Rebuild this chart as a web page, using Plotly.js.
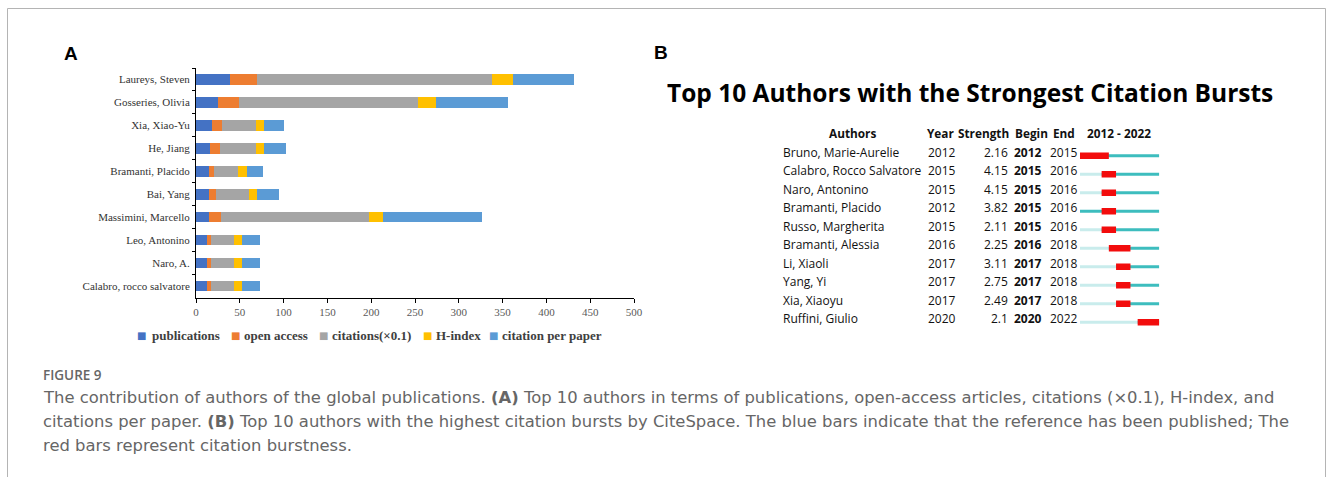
<!DOCTYPE html>
<html>
<head>
<meta charset="utf-8">
<script src="https://cdn.plot.ly/plotly-3.0.1.min.js"></script>
<style>
  html, body { margin: 0; padding: 0; background: #fff; }
  #chart { width: 1330px; height: 477px; }
</style>
</head>
<body>
<div id="chart"></div>
<script>
// ---- Panel A: author contribution (stacked horizontal bars) ----
const authorsA = [
  'Laureys, Steven', 'Gosseries, Olivia', 'Xia, Xiao-Yu', 'He, Jiang',
  'Bramanti, Placido', 'Bai, Yang', 'Massimini, Marcello', 'Leo, Antonino',
  'Naro, A.', 'Calabro, rocco salvatore'
];
const publications     = [39, 25, 18, 16, 15, 15, 15, 13, 13, 13];
const openAccess       = [31, 24, 12, 11, 5, 8, 13, 4, 4, 4];
const citationsTenth   = [268, 204.5, 38.5, 41.5, 28.5, 37, 170, 26.5, 26.5, 26.5];
const hIndex           = [24, 20.5, 9.5, 9.5, 9.5, 9.5, 15, 8.5, 8.5, 8.5];
const citationPerPaper = [70, 82, 22, 25, 19, 25, 114, 20.5, 20.5, 20.5];
const seriesNames  = ['publications', 'open access', 'citations(\u00d70.1)', 'H-index', 'citation per paper'];
const seriesColors = ['#4472C4', '#ED7D31', '#A5A5A5', '#FFC000', '#5B9BD5'];
const xTicksA = [0, 50, 100, 150, 200, 250, 300, 350, 400, 450, 500];

// ---- Panel B: citation bursts ----
const burstAuthors = [
  'Bruno, Marie-Aurelie', 'Calabro, Rocco Salvatore', 'Naro, Antonino',
  'Bramanti, Placido', 'Russo, Margherita', 'Bramanti, Alessia',
  'Li, Xiaoli', 'Yang, Yi', 'Xia, Xiaoyu', 'Ruffini, Giulio'
];
const burstYear     = [2012, 2015, 2015, 2012, 2015, 2016, 2017, 2017, 2017, 2020];
const burstStrength = ['2.16', '4.15', '4.15', '3.82', '2.11', '2.25', '3.11', '2.75', '2.49', '2.1'];
const burstBegin    = [2012, 2015, 2015, 2015, 2015, 2016, 2017, 2017, 2017, 2020];
const burstEnd      = [2015, 2016, 2016, 2016, 2016, 2018, 2018, 2018, 2018, 2022];
const spanStart = 2012, spanEnd = 2022;

const W = 1330, H = 477;
const px = v => v / W;
const py = v => 1 - v / H;

const traces = [];
const seriesValues = [publications, openAccess, citationsTenth, hIndex, citationPerPaper];
seriesValues.forEach((vals, k) => {
  traces.push({
    type: 'bar', orientation: 'h', x: vals, y: authorsA,
    name: seriesNames[k], marker: { color: seriesColors[k] },
    xaxis: 'x', yaxis: 'y', showlegend: false, hoverinfo: 'skip'
  });
});

// timeline segments: before publication year, after it, and the burst itself
function segments(startArr, endArr) {
  const xs = [], ys = [];
  burstAuthors.forEach((_, i) => {
    const a = startArr(i), b = endArr(i);
    if (b > a) { xs.push(a, b, null); ys.push(i, i, null); }
  });
  return { xs, ys };
}
const before = segments(i => spanStart, i => burstYear[i]);
const after  = segments(i => burstYear[i], i => spanEnd + 1);
const burst  = segments(i => burstBegin[i], i => burstEnd[i] + 1);
[[before, '#C9ECEC', 3], [after, '#3DBDBE', 3], [burst, '#F20D0D', 6.5]].forEach(([s, c, w]) => {
  traces.push({
    type: 'scatter', mode: 'lines', x: s.xs, y: s.ys, xaxis: 'x2', yaxis: 'y2',
    line: { color: c, width: w }, showlegend: false, hoverinfo: 'skip'
  });
});

const sansB = '"Open Sans", Lato, sans-serif';
const tableFont = { family: sansB, size: 12, color: '#111' };
const annotations = [];
function note(text, x, y, opts) {
  annotations.push(Object.assign({
    text, x, y, xref: 'paper', yref: 'paper', showarrow: false,
    xanchor: 'left', yanchor: 'middle', align: 'left', font: tableFont
  }, opts || {}));
}

// panel letters
note('<b>A</b>', px(71), py(53), { xanchor: 'center', font: { family: 'Liberation Sans, Arial, sans-serif', size: 19, color: '#000' } });
note('<b>B</b>', px(661), py(52), { xanchor: 'center', font: { family: 'Liberation Sans, Arial, sans-serif', size: 19, color: '#000' } });

// legend for panel A: colour square + series name
const serif = 'Liberation Serif, "Times New Roman", serif';
const legendSquareX = [141.5, 235.5, 323.5, 427.5, 493.5];
const legendTextX   = [150, 242, 330, 434, 500];
seriesNames.forEach((name, k) => {
  note('\u25A0', px(legendSquareX[k]), py(335), { xanchor: 'center',
    font: { family: 'DejaVu Sans, sans-serif', size: 10, color: seriesColors[k] } });
  note('<b>' + name + '</b>', px(legendTextX[k]), py(335),
    { font: { family: serif, size: 13, color: '#404040' } });
});

// panel B title and header
note('<b>Top 10 Authors with the Strongest Citation Bursts</b>', px(970), py(92),
  { xanchor: 'center', font: { family: sansB, size: 24.5, color: '#000' } });
const hdrY = py(133.3);
const hdrFont = { family: sansB, size: 11.8, color: '#111' };
note('<b>Authors</b>', px(853), hdrY, { xanchor: 'center', font: hdrFont });
note('<b>Year</b>', px(925), hdrY, { font: hdrFont });
note('<b>Strength</b>', px(1011), hdrY, { xanchor: 'right', font: hdrFont });
note('<b>Begin</b>', px(1013), hdrY, { font: hdrFont });
note('<b>End</b>', px(1051), hdrY, { font: hdrFont });
note('<b>' + spanStart + ' - ' + spanEnd + '</b>', px(1119), hdrY, { xanchor: 'center', font: hdrFont });

// panel B rows
burstAuthors.forEach((name, i) => {
  const row = { yref: 'y2', yshift: 3.7 };
  note(name, px(781), i, row);
  note(String(burstYear[i]), px(926), i, row);
  note(burstStrength[i], px(1010), i, Object.assign({ xanchor: 'right' }, row));
  note('<b>' + burstBegin[i] + '</b>', px(1012), i, row);
  note(String(burstEnd[i]), px(1048), i, row);
});

// figure caption
const capFont = { family: '"DejaVu Sans", "Open Sans", sans-serif', size: 16.4, color: '#666' };
note('FIGURE 9', px(41), py(375), { font: { family: sansB, size: 13.5, color: '#666', weight: 600 } });
note('The contribution of authors of the global publications. <b>(A)</b> Top 10 authors in terms of publications, open-access articles, citations (\u00d70.1), H-index, and',
  px(41), py(397.5), { font: capFont });
note('citations per paper. <b>(B)</b> Top 10 authors with the highest citation bursts by CiteSpace. The blue bars indicate that the reference has been published; The',
  px(41), py(421.5), { font: capFont });
note('red bars represent citation burstness.', px(41), py(445.5), { font: capFont });

const layout = {
  width: W, height: H,
  margin: { l: 0, r: 0, t: 0, b: 0 },
  paper_bgcolor: '#fff', plot_bgcolor: 'rgba(0,0,0,0)',
  barmode: 'stack', bargap: 0.54,
  hovermode: false,
  showlegend: false,
  xaxis: {
    domain: [px(196), px(634)], range: [0, 500], tickvals: xTicksA,
    showgrid: false, zeroline: false, showline: true, linecolor: '#000', linewidth: 1,
    ticks: 'outside', ticklen: 4, tickcolor: '#000',
    tickfont: { family: serif, size: 11, color: '#595959' }, fixedrange: true
  },
  yaxis: {
    domain: [py(297.5), py(68)], type: 'category',
    categoryorder: 'array', categoryarray: authorsA, autorange: 'reversed',
    showgrid: false, zeroline: false, showline: true, linecolor: '#000', linewidth: 1,
    ticks: 'outside', ticklen: 3, tickcolor: '#000', tickson: 'boundaries',
    ticklabelstandoff: 3,
    tickfont: { family: serif, size: 11, color: '#333' }, fixedrange: true
  },
  xaxis2: {
    domain: [px(1080), px(1159.3)], range: [spanStart, spanEnd + 1],
    visible: false, fixedrange: true
  },
  yaxis2: {
    domain: [py(331.5), py(146.5)], range: [9.5, -0.5],
    visible: false, fixedrange: true
  },
  shapes: [
    { type: 'line', xref: 'paper', yref: 'paper', x0: px(7.5), x1: px(1325.5), y0: py(8.5), y1: py(8.5), line: { color: '#b4b4b4', width: 1 } },
    { type: 'line', xref: 'paper', yref: 'paper', x0: px(7.5), x1: px(7.5), y0: py(8.5), y1: 0, line: { color: '#b4b4b4', width: 1 } },
    { type: 'line', xref: 'paper', yref: 'paper', x0: px(1325.5), x1: px(1325.5), y0: py(8.5), y1: 0, line: { color: '#b4b4b4', width: 1 } }
  ],
  annotations
};

Plotly.newPlot('chart', traces, layout, { displayModeBar: false, staticPlot: true });
</script>
</body>
</html>
